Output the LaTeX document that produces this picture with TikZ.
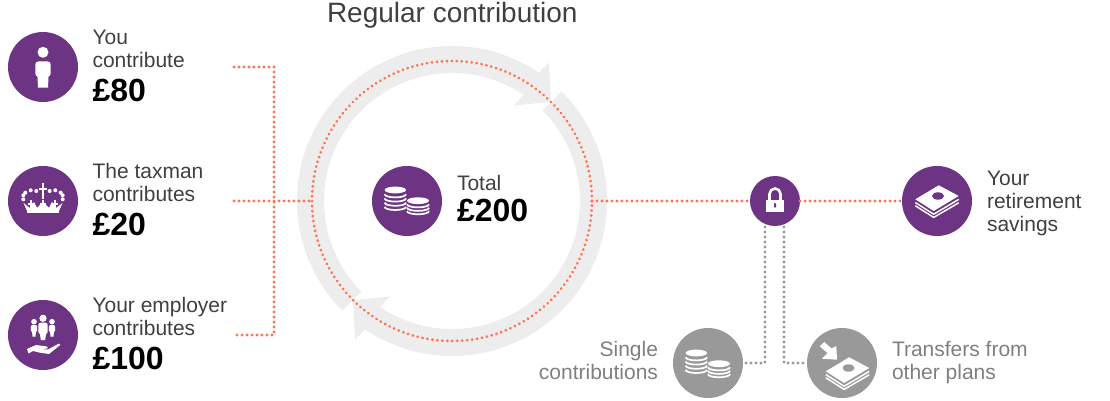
\documentclass[tikz,border=0pt]{standalone}
\usepackage{fontspec}
\usetikzlibrary{decorations.markings}
\setmainfont{Liberation Sans}
\definecolor{plum}{HTML}{6C3483}
\definecolor{stone}{HTML}{999999}
\definecolor{coral}{HTML}{FF7355}
\definecolor{ringgrey}{HTML}{EDEDED}
\definecolor{inkgrey}{HTML}{404040}
\definecolor{softgrey}{HTML}{7F7F7F}
\tikzset{
  x=0.75pt,y=0.75pt,
  bigdisc/.style={circle,fill=plum,minimum size=52.5pt,inner sep=0pt,outer sep=0pt},
  greydisc/.style={circle,fill=stone,minimum size=52.5pt,inner sep=0pt,outer sep=0pt},
  lockdisc/.style={circle,fill=plum,minimum size=37.5pt,inner sep=0pt,outer sep=0pt},
  dotline/.style={decoration={markings,mark=between positions 0 and 1 step 3.75pt with {\fill[#1] (0,0) circle (1.15pt);}},postaction={decorate}},
  orangeline/.style={dotline=coral},
  greyline/.style={dotline=stone},
  ringdots/.style={circle,minimum size=210pt,inner sep=0pt,outer sep=0pt},
  label/.style={anchor=base west,inner sep=0pt,outer sep=0pt,text=inkgrey,font=\fontsize{15.75pt}{18pt}\selectfont},
  rlabel/.style={anchor=base east,inner sep=0pt,outer sep=0pt,text=softgrey,font=\fontsize{15.75pt}{18pt}\selectfont},
  glabel/.style={label,text=softgrey},
  amount/.style={anchor=base west,inner sep=0pt,outer sep=0pt,text=black,font=\fontsize{24pt}{26pt}\selectfont\bfseries},
  headline/.style={anchor=base west,inner sep=0pt,outer sep=0pt,text=inkgrey,font=\fontsize{21pt}{24pt}\selectfont},
  coinstack/.pic={
    \fill[white] (-11.7,11) ellipse (10.7 and 3.4);
    \foreach \d in {4.2,8.4,12.6,16.8}{\draw[white,line width=1.3pt] (-22.4,11-\d) arc (180:360:10.7 and 3.2);}
    \fill[white] (11,0.3) ellipse (11 and 3.4);
    \foreach \d in {3.5,7,10.4}{\draw[white,line width=1.3pt] (0,0.3-\d) arc (180:360:11 and 3.2);}
  },
  cashstack/.pic={
    \fill[white] (-21.7,1.7) -- (1.7,15.7) -- (21.7,5) -- (-3.3,-10) -- cycle;
    \draw[white,line width=1.1pt] (-21.7,-1.6) -- (-3.3,-13.2) -- (21.7,1.6);
    \draw[white,line width=1.1pt] (-21.7,-4.8) -- (-3.3,-16.4) -- (21.7,-1.8);
  }
}
\begin{document}
\begin{tikzpicture}
\useasboundingbox (0,0) rectangle (1110,400);
% ring
\begin{scope}[shift={(452,199)}]
  \foreach \r in {0,180}{
    \fill[ringgrey,rotate=\r] (225:155) arc (225:56:155) -- (55:169) -- (45:140) -- (57:114) -- (56:128) arc (56:225:128) -- cycle;
  }
\end{scope}
\node[ringdots] (ring) at (452,199) {};
\path[orangeline] (ring.east) arc (0:360:140);
% discs
\node[bigdisc] (you) at (43,333) {};
\node[bigdisc] (tax) at (43,199) {};
\node[bigdisc] (emp) at (43,65) {};
\node[bigdisc] (total) at (407,199) {};
\node[lockdisc] (lock) at (775,199) {};
\node[bigdisc] (save) at (937,199) {};
\node[greydisc] (single) at (708,37) {};
\node[greydisc] (transfer) at (842,37) {};
% connectors
\coordinate (ya) at (234,333);
\coordinate (ta) at (234,199);
\coordinate (ea) at (234,65);
\coordinate (jt) at (274,333);
\coordinate (jb) at (274,65);
\coordinate (ga) at (765,173);
\coordinate (gb) at (784,173);
\path[orangeline] (ya) -- (jt) -- (jb) -- (ea);
\path[orangeline] (ta) -- (ring.west);
\path[orangeline] (ring.east) -- (lock);
\path[orangeline] (lock) -- (save);
\path[greyline] (ga) |- (single);
\path[greyline] (gb) |- (transfer);
% person
\begin{scope}[shift={(43,333)}]
  \fill[white] (0,14.7) circle (5.5);
  \fill[white,rounded corners=2.2pt] (-7.7,-9.6) -- (-7.7,5.5) -- (7.7,5.5) -- (7.7,-9.6) -- cycle;
  \fill[white] (-5.6,-8) -- (5.6,-8) -- (5,-20.7) -- (-5,-20.7) -- cycle;
\end{scope}
% crown
\begin{scope}[shift={(43,199)}]
  \fill[white] (-16,-12.5) rectangle (16,-10.3);
  \fill[white] (-16,-10) -- (-19.5,-2) -- (-13,-7) -- (-9,-1) -- (-6,-7) -- (0,-1) -- (6,-7) -- (9,-1) -- (13,-7) -- (19.5,-2) -- (16,-10) -- cycle;
  \fill[white] (-1.3,2) rectangle (1.3,17.5);
  \fill[white] (-3.8,10.6) rectangle (3.8,13.2);
  \foreach \p in {-12,0,12}{
    \fill[white] (\p-3,-4) rectangle (\p+3,-2.4);
    \fill[white] (\p-1,-7) rectangle (\p+1,0.5);
  }
  \foreach \p/\q in {-19.7/1.7,-19.7/5.7,-17.7/8.3,-12.3/10.7,-6.7/10,6.7/10,12.3/10.7,17.7/8.3,19.7/5.7,19.7/1.7}{
    \fill[white] (\p,\q) circle (2);
  }
\end{scope}
% employer
\begin{scope}[shift={(43,65)}]
  \fill[white] (0,16.7) circle (3.6);
  \fill[white,rounded corners=1.5pt] (-4.6,12.3) rectangle (4.6,1);
  \fill[white] (-3.2,2) -- (3.2,2) -- (2.2,-5) -- (-2.2,-5) -- cycle;
  \foreach \s in {-9,9}{
    \fill[white] (\s,13.3) circle (2.8);
    \fill[white,rounded corners=1pt] (\s-3.2,10) rectangle (\s+3.2,3);
    \fill[white] (\s-2,4) -- (\s+2,4) -- (\s+1.5,-1.7) -- (\s-1.5,-1.7) -- cycle;
  }
  \fill[white] (-16,-14) -- (-7,-10) -- (4,-11.5) -- (4.8,-13.3) -- (-1,-14.3) -- (5,-14.5) -- (16,-8.5) -- (17.3,-10) -- (6,-19) -- (-3,-17.7) -- (-10,-16) -- (-14.5,-18.5) -- cycle;
\end{scope}
% coins and cash
\pic at (407,199) {coinstack};
\pic at (708,36) {coinstack};
\pic at (937,199) {cashstack};
\fill[plum] (938,204) ellipse (6 and 3.7);
\pic at (847.5,27) {cashstack};
\fill[stone] (848.5,32) ellipse (6 and 3.7);
\fill[white] (837,40.3) -- (822,41.3) -- (827.5,47) -- (819.7,53.7) -- (824.3,58) -- (831.5,51.5) -- (836.3,54) -- cycle;
% lock
\begin{scope}[shift={(775,199)}]
  \draw[white,line width=1.9pt] (-5.5,1) -- (-5.5,7) arc (180:0:5.5) -- (5.5,1);
  \fill[white] (-9.3,-10.7) rectangle (9.3,1);
  \fill[plum,rounded corners=0.6pt] (-1,-6.7) rectangle (1,-2);
\end{scope}
% texts
\node[headline] (title) at (327,377) {Regular contribution};
\node[label] (t1a) at (92.5,355) {You};
\node[label] (t1b) at (92.5,332.6) {contribute};
\node[amount] (t1c) at (92.5,298.4) {£80};
\node[label] (t2a) at (92.5,221.5) {The taxman};
\node[label] (t2b) at (92.5,198) {contributes};
\node[amount] (t2c) at (92.5,164) {£20};
\node[label] (t3a) at (92.5,88) {Your employer};
\node[label] (t3b) at (92.5,64.5) {contributes};
\node[amount] (t3c) at (92.5,31) {£100};
\node[label] (t4a) at (457,209) {Total};
\node[amount] (t4b) at (457,178.3) {£200};
\node[label] (t5a) at (987,214) {Your};
\node[label] (t5b) at (987,191) {retirement};
\node[label] (t5c) at (987,168) {savings};
\node[rlabel] (t6a) at (658,44) {Single};
\node[rlabel] (t6b) at (658,21) {contributions};
\node[glabel] (t7a) at (892,44) {Transfers from};
\node[glabel] (t7b) at (892,21) {other plans};
\end{tikzpicture}
\end{document}
